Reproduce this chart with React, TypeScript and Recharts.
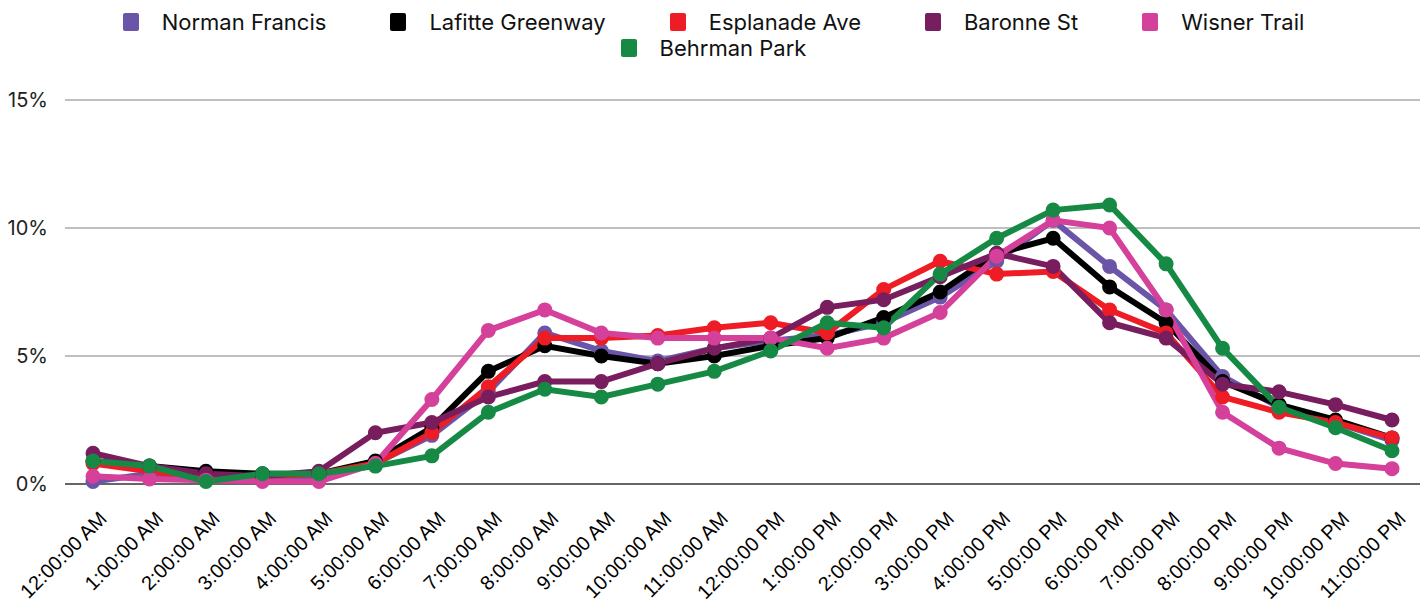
import React from 'react';
import { LineChart, Line, XAxis, YAxis, CartesianGrid, ReferenceLine } from 'recharts';

const hours = [
  '12:00:00 AM', '1:00:00 AM', '2:00:00 AM', '3:00:00 AM', '4:00:00 AM', '5:00:00 AM',
  '6:00:00 AM', '7:00:00 AM', '8:00:00 AM', '9:00:00 AM', '10:00:00 AM', '11:00:00 AM',
  '12:00:00 PM', '1:00:00 PM', '2:00:00 PM', '3:00:00 PM', '4:00:00 PM', '5:00:00 PM',
  '6:00:00 PM', '7:00:00 PM', '8:00:00 PM', '9:00:00 PM', '10:00:00 PM', '11:00:00 PM',
];

const normanFrancis = [0.1, 0.4, 0.3, 0.3, 0.3, 0.8, 1.9, 3.6, 5.9, 5.2, 4.8, 5.3, 5.6, 5.8, 6.3, 7.3, 8.7, 10.3, 8.5, 6.8, 4.2, 3.0, 2.4, 1.7];
const lafitteGreenway = [0.9, 0.7, 0.5, 0.4, 0.4, 0.9, 2.2, 4.4, 5.4, 5.0, 4.7, 5.0, 5.4, 5.7, 6.5, 7.5, 9.0, 9.6, 7.7, 6.3, 4.0, 3.1, 2.5, 1.8];
const esplanadeAve = [0.8, 0.5, 0.2, 0.3, 0.4, 0.8, 2.0, 3.8, 5.7, 5.7, 5.8, 6.1, 6.3, 5.9, 7.6, 8.7, 8.2, 8.3, 6.8, 5.9, 3.4, 2.8, 2.4, 1.8];
const baronneSt = [1.2, 0.7, 0.4, 0.3, 0.5, 2.0, 2.4, 3.4, 4.0, 4.0, 4.7, 5.3, 5.7, 6.9, 7.2, 8.1, 9.0, 8.5, 6.3, 5.7, 3.9, 3.6, 3.1, 2.5];
const wisnerTrail = [0.3, 0.2, 0.15, 0.1, 0.1, 0.8, 3.3, 6.0, 6.8, 5.9, 5.7, 5.7, 5.7, 5.3, 5.7, 6.7, 8.9, 10.3, 10.0, 6.8, 2.8, 1.4, 0.8, 0.6];
const behrmanPark = [0.9, 0.7, 0.1, 0.4, 0.4, 0.7, 1.1, 2.8, 3.7, 3.4, 3.9, 4.4, 5.2, 6.3, 6.1, 8.2, 9.6, 10.7, 10.9, 8.6, 5.3, 3.0, 2.2, 1.3];

const yTicks = [0, 5, 10, 15];

const series = [
  { key: 'nf', name: 'Norman Francis', color: '#6A55A8', values: normanFrancis },
  { key: 'lg', name: 'Lafitte Greenway', color: '#000000', values: lafitteGreenway },
  { key: 'ea', name: 'Esplanade Ave', color: '#EE1C25', values: esplanadeAve },
  { key: 'bs', name: 'Baronne St', color: '#781D5E', values: baronneSt },
  { key: 'wt', name: 'Wisner Trail', color: '#D4409A', values: wisnerTrail },
  { key: 'bp', name: 'Behrman Park', color: '#168A45', values: behrmanPark },
];

const data = hours.map((h, i) => {
  const row: Record<string, string | number> = { hour: h };
  series.forEach((s) => { row[s.key] = s.values[i]; });
  return row;
});

const FONT = 'Inter, "Noto Sans", sans-serif';

const XTick = (props: any) => {
  const { x, y, payload } = props;
  const ax = x + 15;
  const ay = y + 28;
  return (
    <text
      x={ax}
      y={ay}
      transform={`rotate(-45, ${ax}, ${ay})`}
      textAnchor="end"
      fontFamily='"Liberation Sans", Arial, sans-serif'
      fontSize={20}
      fill="#000"
    >
      {payload.value}
    </text>
  );
};

const YTick = (props: any) => {
  const { y, payload } = props;
  return (
    <text x={48} y={y} dy="0.35em" textAnchor="end" fontFamily={FONT} fontSize={20} fill="#222">
      {payload.value}%
    </text>
  );
};

export default function App() {
  return (
    <div style={{ position: 'absolute', left: 0, top: 0, width: 1427, height: 614, background: '#fff' }}>
      <div
        style={{
          position: 'absolute',
          left: 0,
          top: 9,
          width: 1427,
          display: 'flex',
          justifyContent: 'center',
        }}
      >
        <div
          style={{
            width: 1270,
            display: 'flex',
            flexWrap: 'wrap',
            justifyContent: 'center',
            rowGap: 0,
            fontFamily: FONT,
            fontSize: 22,
            color: '#111',
          }}
        >
          {series.map((s) => (
            <div key={s.key} style={{ display: 'flex', alignItems: 'center', margin: '0 32px', height: 26 }}>
              <div style={{ width: 16, height: 18, background: s.color, borderRadius: 2, marginRight: 23 }} />
              <span>{s.name}</span>
            </div>
          ))}
        </div>
      </div>
      <LineChart
        width={1427}
        height={614}
        data={data}
        margin={{ top: 100, right: 7, left: 0, bottom: 0 }}
      >
        <CartesianGrid horizontal vertical={false} stroke="#BFBFBF" strokeWidth={2} />
        <XAxis
          dataKey="hour"
          interval={0}
          height={130}
          padding={{ left: 28, right: 28 }}
          tickLine={false}
          axisLine={false}
          tick={<XTick />}
        />
        <YAxis
          domain={[0, 15]}
          ticks={yTicks}
          width={65}
          tickLine={false}
          axisLine={false}
          tick={<YTick />}
        />
        <ReferenceLine y={0} stroke="#666666" strokeWidth={2} />
        {series.map((s) => (
          <Line
            key={s.key}
            type="linear"
            dataKey={s.key}
            name={s.name}
            stroke={s.color}
            strokeWidth={6}
            dot={{ r: 6, fill: s.color, stroke: s.color, strokeWidth: 3 }}
            activeDot={false}
            isAnimationActive={false}
          />
        ))}
      </LineChart>
    </div>
  );
}
